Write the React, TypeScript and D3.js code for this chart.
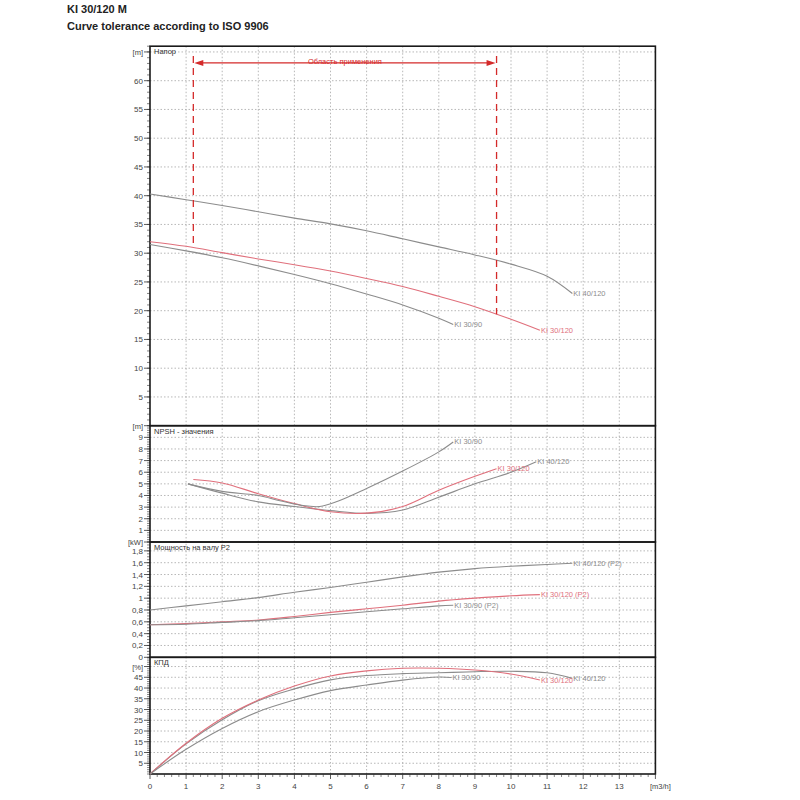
import React, { useEffect, useRef } from 'react';
import * as d3 from 'd3';

// flow values [m3/h] and read-off curve values
const headQ40 = [0, 1, 2, 3, 4, 5, 6, 7, 8, 9, 10, 11, 11.7];
const head40 = [40.3, 39.3, 38.3, 37.2, 36.1, 35.1, 33.9, 32.5, 31.1, 29.7, 28.1, 26.0, 23.0];
const headQ30120 = [0, 1, 2, 3, 4, 5, 6, 7, 8, 9, 10, 10.8];
const head30120 = [32.0, 31.2, 30.1, 29.0, 28.0, 26.9, 25.6, 24.2, 22.5, 20.7, 18.5, 16.6];
const headQ3090 = [0, 1, 2, 3, 4, 5, 6, 7, 8, 8.4];
const head3090 = [31.5, 30.4, 29.2, 27.8, 26.3, 24.7, 22.9, 21.0, 18.7, 17.6];

const npshQ40 = [1.05, 2, 3, 4, 5, 6, 7, 8, 9, 10, 10.7];
const npsh40 = [5.0, 4.2, 3.45, 3.05, 2.7, 2.46, 2.75, 3.85, 5.0, 6.0, 6.9];
const npshQ30120 = [1.2, 2, 3, 4, 5, 6, 7, 8, 9, 9.6];
const npsh30120 = [5.38, 5.08, 4.15, 3.3, 2.6, 2.48, 3.05, 4.45, 5.65, 6.3];
const npshQ3090 = [1.05, 2, 3, 3.6, 4.2, 4.7, 5.2, 6, 7, 8, 8.4];
const npsh3090 = [5.0, 4.35, 4.0, 3.55, 3.15, 3.05, 3.5, 4.6, 6.1, 7.75, 8.6];

const powQ40 = [0, 1, 2, 3, 4, 5, 6, 7, 8, 9, 10, 11, 11.7];
const pow40 = [0.8, 0.87, 0.94, 1.01, 1.1, 1.18, 1.27, 1.36, 1.44, 1.5, 1.54, 1.57, 1.59];
const powQ30120 = [0, 1, 2, 3, 4, 5, 6, 7, 8, 9, 10, 10.8];
const pow30120 = [0.55, 0.57, 0.6, 0.63, 0.69, 0.76, 0.82, 0.88, 0.95, 1.0, 1.04, 1.06];
const powQ3090 = [0, 1, 2, 3, 4, 5, 6, 7, 8, 8.4];
const pow3090 = [0.55, 0.56, 0.59, 0.62, 0.67, 0.72, 0.77, 0.82, 0.87, 0.88];

const effQ40 = [0, 1, 2, 3, 4, 5, 6, 7, 8, 9, 10, 11, 11.7];
const eff40 = [0, 14, 25.2, 34.1, 39.6, 43.8, 45.8, 46.7, 47.1, 47.6, 47.8, 47.1, 44.5];
const effQ30120 = [0, 1, 2, 3, 4, 5, 6, 7, 8, 9, 10, 10.8];
const eff30120 = [0, 14.3, 25.9, 34.4, 40.9, 45.6, 48.0, 49.2, 49.2, 48.4, 46.5, 43.7];
const effQ3090 = [0, 1, 2, 3, 4, 5, 6, 7, 8, 8.35];
const eff3090 = [0, 11.5, 21.2, 29, 34.4, 38.8, 41.4, 43.7, 45.1, 44.9];

// application range
const rangeQ = [1.2, 9.6];
const rangeArrowHead = 63.1;
const rangeTopHead = 64.3;

const xTicks = [0, 1, 2, 3, 4, 5, 6, 7, 8, 9, 10, 11, 12, 13];
const headTicks = [5, 10, 15, 20, 25, 30, 35, 40, 45, 50, 55, 60];
const npshTicks = [1, 2, 3, 4, 5, 6, 7, 8, 9];
const powTicks = [0, 0.2, 0.4, 0.6, 0.8, 1, 1.2, 1.4, 1.6, 1.8];
const effTicks = [5, 10, 15, 20, 25, 30, 35, 40, 45];

const GRAY = '#8c8c8c';
const RED = '#e0707c';
const RANGE_RED = '#d42a2a';
const FONT = 'Liberation Sans, Arial, sans-serif';

const App: React.FC = () => {
    const svgRef = useRef<SVGSVGElement>(null);

    useEffect(() => {
        if (!svgRef.current) return;
        const svg = d3.select(svgRef.current);
        svg.selectAll('*').remove();

        const x = d3.scaleLinear().domain([0, 14]).range([150, 655.4]);
        const yHead = d3.scaleLinear().domain([0, 66]).range([425.7, 46.2]);
        const yNpsh = d3.scaleLinear().domain([0, 10]).range([542, 425.7]);
        const yPow = d3.scaleLinear().domain([0, 1.95]).range([657.3, 542]);
        const yEff = d3.scaleLinear().domain([0, 54.3]).range([774, 657.3]);

        // header
        svg.append('text').attr('x', 67).attr('y', 13).attr('font-family', FONT)
            .attr('font-size', 11).attr('font-weight', 'bold').attr('fill', '#222').text('KI 30/120 M');
        svg.append('text').attr('x', 67).attr('y', 30).attr('font-family', FONT)
            .attr('font-size', 11).attr('font-weight', 'bold').attr('fill', '#222')
            .text('Curve tolerance according to ISO 9906');

        const fmt = (v: number) => String(+v.toFixed(2)).replace('.', ',');

        const panels = [
            { y: yHead, ticks: headTicks, minor: 1, unitAt: 65, unit: '[m]', title: 'Напор' },
            { y: yNpsh, ticks: npshTicks, minor: 0.2, unitAt: 10, unit: '[m]', title: 'NPSH - значения' },
            { y: yPow, ticks: powTicks, minor: 0.05, unitAt: 1.95, unit: '[kW]', title: 'Мощность на валу P2' },
            { y: yEff, ticks: effTicks, minor: 1, unitAt: 50, unit: '[%]', title: 'КПД' },
        ];

        panels.forEach(p => {
            const [d0, d1] = p.y.domain();
            const g = svg.append('g');
            // grid
            xTicks.slice(1).forEach(t => {
                g.append('line').attr('x1', x(t)).attr('x2', x(t))
                    .attr('y1', p.y(d0)).attr('y2', p.y(d1))
                    .attr('stroke', '#9a9a9a').attr('stroke-width', 0.7).attr('stroke-dasharray', '1.5,2');
            });
            [...p.ticks, p.unitAt].filter(t => t > d0 && t < d1).forEach(t => {
                g.append('line').attr('x1', x(0)).attr('x2', x(14))
                    .attr('y1', p.y(t)).attr('y2', p.y(t))
                    .attr('stroke', '#9a9a9a').attr('stroke-width', 0.7).attr('stroke-dasharray', '1.5,2');
            });
            // minor ticks
            d3.range(d0, d1 + 1e-9, p.minor).forEach(t => {
                g.append('line').attr('x1', x(0) - 3).attr('x2', x(0))
                    .attr('y1', p.y(t)).attr('y2', p.y(t)).attr('stroke', '#333').attr('stroke-width', 0.6);
            });
            // major ticks + labels
            [...p.ticks, p.unitAt].forEach(t => {
                g.append('line').attr('x1', x(0) - 6).attr('x2', x(0))
                    .attr('y1', p.y(t)).attr('y2', p.y(t)).attr('stroke', '#333').attr('stroke-width', 0.8);
            });
            p.ticks.forEach(t => {
                g.append('text').attr('x', x(0) - 7).attr('y', p.y(t) + 3)
                    .attr('text-anchor', 'end').attr('font-family', FONT).attr('font-size', 8)
                    .attr('fill', '#444').text(fmt(t));
            });
            g.append('text').attr('x', x(0) - 7).attr('y', p.y(p.unitAt) + 3)
                .attr('text-anchor', 'end').attr('font-family', FONT).attr('font-size', 7.5)
                .attr('fill', '#444').text(p.unit);
            g.append('text').attr('x', x(0) + 4).attr('y', p.y(d1) + 8)
                .attr('font-family', FONT).attr('font-size', 7.5).attr('fill', '#333').text(p.title);
            // frame
            g.append('rect').attr('x', x(0)).attr('y', p.y(d1))
                .attr('width', x(14) - x(0)).attr('height', p.y(d0) - p.y(d1))
                .attr('fill', 'none').attr('stroke', '#1a1a1a').attr('stroke-width', 1.6);
        });

        // x axis
        const xa = svg.append('g');
        d3.range(0, 14 + 1e-9, 0.2).forEach(t => {
            const major = Math.abs(t - Math.round(t)) < 1e-6;
            xa.append('line').attr('x1', x(t)).attr('x2', x(t))
                .attr('y1', yEff(0)).attr('y2', yEff(0) + (major ? 5 : 3))
                .attr('stroke', '#333').attr('stroke-width', major ? 0.8 : 0.6);
        });
        xTicks.forEach(t => {
            xa.append('text').attr('x', x(t)).attr('y', yEff(0) + 15).attr('text-anchor', 'middle')
                .attr('font-family', FONT).attr('font-size', 8).attr('fill', '#444').text(String(t));
        });
        xa.append('text').attr('x', x(14) + 5).attr('y', yEff(0) + 15).attr('text-anchor', 'middle')
            .attr('font-family', FONT).attr('font-size', 7.5).attr('fill', '#444').text('[m3/h]');

        const line = (y: d3.ScaleLinear<number, number>) =>
            d3.line<[number, number]>().x(d => x(d[0])).y(d => y(d[1])).curve(d3.curveCatmullRom.alpha(0.5));

        const curves = [
            { y: yHead, q: headQ40, v: head40, color: GRAY, label: 'KI 40/120' },
            { y: yHead, q: headQ30120, v: head30120, color: RED, label: 'KI 30/120' },
            { y: yHead, q: headQ3090, v: head3090, color: GRAY, label: 'KI 30/90' },
            { y: yNpsh, q: npshQ40, v: npsh40, color: GRAY, label: 'KI 40/120' },
            { y: yNpsh, q: npshQ30120, v: npsh30120, color: RED, label: 'KI 30/120' },
            { y: yNpsh, q: npshQ3090, v: npsh3090, color: GRAY, label: 'KI 30/90' },
            { y: yPow, q: powQ40, v: pow40, color: GRAY, label: 'KI 40/120 (P2)' },
            { y: yPow, q: powQ30120, v: pow30120, color: RED, label: 'KI 30/120 (P2)' },
            { y: yPow, q: powQ3090, v: pow3090, color: GRAY, label: 'KI 30/90 (P2)' },
            { y: yEff, q: effQ40, v: eff40, color: GRAY, label: 'KI 40/120' },
            { y: yEff, q: effQ30120, v: eff30120, color: RED, label: 'KI 30/120' },
            { y: yEff, q: effQ3090, v: eff3090, color: GRAY, label: 'KI 30/90' },
        ];

        curves.forEach(c => {
            const pts = c.q.map((q, i) => [q, c.v[i]] as [number, number]);
            svg.append('path').attr('d', line(c.y)(pts) || '')
                .attr('fill', 'none').attr('stroke', c.color).attr('stroke-width', 1.1);
            const last = pts[pts.length - 1];
            svg.append('text').attr('x', x(last[0]) + 1).attr('y', c.y(last[1]) + 2.5)
                .attr('font-family', FONT).attr('font-size', 7.5).attr('fill', c.color).text(c.label);
        });

        // application range (Область применения)
        const redAt = d3.scaleLinear().domain(headQ30120).range(head30120);
        rangeQ.forEach(q => {
            svg.append('line').attr('x1', x(q)).attr('x2', x(q))
                .attr('y1', yHead(rangeTopHead)).attr('y2', yHead(redAt(q)))
                .attr('stroke', RANGE_RED).attr('stroke-width', 1.3).attr('stroke-dasharray', '7,5');
        });
        const ay = yHead(rangeArrowHead);
        svg.append('line').attr('x1', x(rangeQ[0]) + 6).attr('x2', x(rangeQ[1]) - 6)
            .attr('y1', ay).attr('y2', ay).attr('stroke', RANGE_RED).attr('stroke-width', 1.1);
        const xl = x(rangeQ[0]) + 1;
        const xr = x(rangeQ[1]) - 1;
        svg.append('path').attr('d', `M${xl},${ay} L${xl + 9},${ay - 3} L${xl + 9},${ay + 3} Z`).attr('fill', RANGE_RED);
        svg.append('path').attr('d', `M${xr},${ay} L${xr - 9},${ay - 3} L${xr - 9},${ay + 3} Z`).attr('fill', RANGE_RED);
        svg.append('text').attr('x', x((rangeQ[0] + rangeQ[1]) / 2)).attr('y', ay + 1.5)
            .attr('text-anchor', 'middle').attr('font-family', FONT).attr('font-size', 7.5)
            .attr('fill', RANGE_RED).text('Область применения');
    }, []);

    return (
        <svg ref={svgRef} width={800} height={800} viewBox="0 0 800 800"
            style={{ position: 'absolute', left: 0, top: 0, background: '#fff' }} />
    );
};

export default App;
